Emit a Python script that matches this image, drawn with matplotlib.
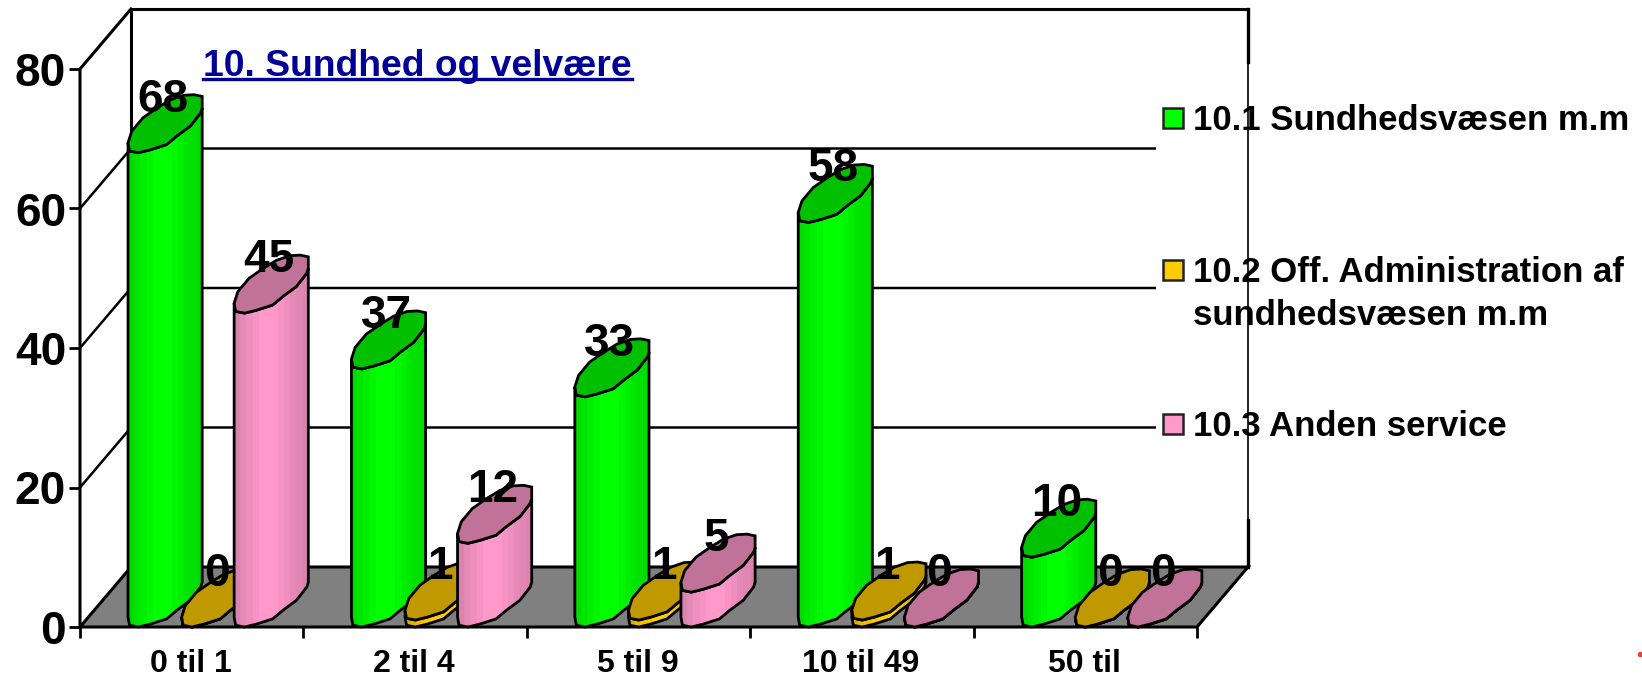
import numpy as np
import matplotlib
matplotlib.use('Agg')
import matplotlib.pyplot as plt
from matplotlib.patches import Polygon, Rectangle

plt.rcParams['font.family'] = ['Liberation Sans', 'DejaVu Sans']
plt.rcParams['font.weight'] = 'bold'

categories = ['0 til 1', '2 til 4', '5 til 9', '10 til 49', '50 til']
sundhed = [68, 37, 33, 58, 10]
administration = [0, 1, 1, 1, 0]
anden = [45, 12, 5, 0, 0]
series_names = ['10.1 Sundhedsvæsen m.m', '10.2 Off. Administration af\nsundhedsvæsen m.m', '10.3 Anden service']
title = '10. Sundhed og velvære'
yticks = [0, 20, 40, 60, 80]

W, H = 1642, 677
# front plane of the box in pixels
X0, X1, Y0, Y1 = 80, 1197, 627, 69
# depth of the box in data units
DX = 51 / ((X1 - X0) / 5)
DY = 60 / ((Y0 - Y1) / 80)

# outline of a bar's top face, as fractions of its footprint
FRONT = [(0, .17), (.02, .03), (.14, 0), (.3, .05), (.52, .14), (.66, .29), (.84, .46), (.98, .69), (1, .77)]
BACK = [(1, .97), (.89, 1.0), (.75, .99), (.57, .91), (.39, .77), (.2, .6), (.05, .37)]
BAR_W = .332
BAR_H = 58 / ((Y0 - Y1) / 80)
OFFSETS = [.215, .455, .69]
FS_BIG = 33


def face(pts, x, v):
    return [(x + a * BAR_W, v + b * BAR_H) for a, b in pts]


def draw_bar(ax, x, v, base, top, zo):
    bottom = face(FRONT, x, 0)
    upper = face(FRONT, x, v)
    body = Polygon(bottom + upper[::-1], closed=True, fc=base, ec='none', zorder=zo, clip_on=False)
    ax.add_patch(body)
    # vertical shading bands, darker to the sides
    shade = np.array([.86, .9, .94, .97, 1, 1, 1, .97, .94, .9, .88, .86])
    rgb = np.array(matplotlib.colors.to_rgb(base))
    img = (shade[:, None] * rgb)[None, :, :]
    im = ax.imshow(img, extent=(x, x + BAR_W, 0, v + BAR_H), aspect='auto',
                   interpolation='nearest', zorder=zo)
    im.set_clip_path(body)
    ax.add_patch(Polygon(bottom + upper[::-1], closed=True, fc='none', ec='black', lw=2,
                         zorder=zo, clip_on=False))
    ax.add_patch(Polygon(upper + face(BACK, x, v), closed=True, fc=top, ec='black', lw=2,
                         zorder=zo, clip_on=False))
    ax.text(x + .157, v + 7.6, str(v), ha='center', va='center', fontsize=FS_BIG, zorder=50)


fig = plt.figure(figsize=(W / 100, H / 100), dpi=100)
ax = fig.add_axes([X0 / W, 1 - Y0 / H, (X1 - X0) / W, (Y0 - Y1) / H])
ax.set_xlim(0, 5)
ax.set_ylim(0, 80)
ax.patch.set_visible(False)
for s in ax.spines.values():
    s.set_visible(False)

# box: floor, gridlines, walls
ax.add_patch(Polygon([(0, 0), (5, 0), (5 + DX, DY), (DX, DY)], closed=True, fc='#808080', ec='black',
                     lw=2.2, clip_on=False, zorder=1))
for t in yticks[1:4]:
    ax.plot([0, DX, 5 + DX], [t, t + DY, t + DY], color='black', lw=1.8, clip_on=False, zorder=1)
ax.plot([0, 0, DX], [0, 80, 80 + DY], color='black', lw=2.2, clip_on=False, zorder=1)
ax.plot([DX, DX, 5 + DX], [DY, 80 + DY, 80 + DY], color='black', lw=2.2, clip_on=False, zorder=1)

ax.set_xticks(range(6))
ax.set_xticklabels([])
ax.set_yticks(yticks)
ax.set_yticklabels([str(t) for t in yticks], fontsize=FS_BIG)
ax.tick_params(axis='y', length=8, width=2, pad=2)
ax.tick_params(axis='x', length=8, width=2)
for i, c in enumerate(categories):
    ax.text(i + .495, -3.2, c, ha='center', va='top', fontsize=23)

# bars, drawn left to right
z = 5
for i in range(len(categories)):
    draw_bar(ax, i + OFFSETS[0], sundhed[i], '#00FF00', '#00C000', z)
    draw_bar(ax, i + OFFSETS[1], administration[i], '#FFCC00', '#C09900', z + 1)
    draw_bar(ax, i + OFFSETS[2], anden[i], '#FF99CC', '#C07299', z + 2)
    z += 3
ax.set_xlim(0, 5)
ax.set_ylim(0, 80)

# legend block over the back wall
lax = fig.add_axes([0, 0, 1, 1])
lax.set_xlim(0, W)
lax.set_ylim(H, 0)
lax.axis('off')
lax.add_patch(Rectangle((1156, 62), 486, 458, fc='white', ec='none', zorder=1))
lax.plot([1248, 1248], [62, 520], color='black', lw=1.2, zorder=4)
lax.plot([1248, 1248], [9, 62], color='black', lw=2.4, zorder=4)
lax.plot([1248, 1248], [520, 567], color='black', lw=2.4, zorder=4)
legend_colors = ['#00FF00', '#FFCC00', '#FF99CC']
for name, col, ly in zip(series_names, legend_colors, [118, 270, 424]):
    lax.add_patch(Rectangle((1163, ly - 10), 20, 20, fc=col, ec='#222222', lw=1.8, zorder=2))
    lax.text(1193, ly - 14, name, fontsize=25, va='top', linespacing=1.38, zorder=3)

t = lax.text(203, 66, title, color='#000099', fontsize=26.8, va='center', zorder=60)
fig.canvas.draw()
bb = t.get_window_extent()
lax.plot([bb.x0, bb.x1], [79, 79], color='#000099', lw=2.4, zorder=60)
# small red speck in the corner
lax.plot([1640], [654], marker='o', ms=4, color='#F04030', mec='none', clip_on=False)

fig.savefig('out.png', dpi=100)
